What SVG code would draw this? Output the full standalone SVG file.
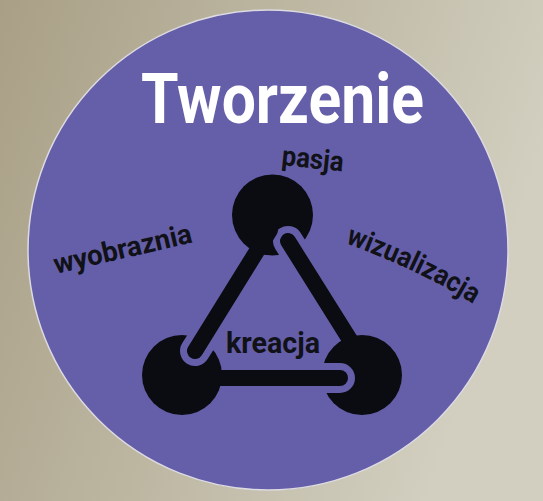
<svg xmlns="http://www.w3.org/2000/svg" width="543" height="501" viewBox="0 0 543 501">
  <defs>
    <linearGradient id="paper" x1="0" y1="0" x2="1" y2="0.3">
      <stop offset="0" stop-color="#a99f86"/>
      <stop offset="0.5" stop-color="#bdb7a2"/>
      <stop offset="1" stop-color="#d2cfc0"/>
    </linearGradient>
    <path id="arcWiz" d="M345,243 Q423,271.5 478,307"/>
  </defs>
  <style>
    .lbl { font-family: Roboto, "DejaVu Sans", "Liberation Sans", sans-serif; font-weight: 700; fill: #111118; }
    .title { font-family: Roboto, "DejaVu Sans", "Liberation Sans", sans-serif; font-weight: 700; fill: #ffffff; }
    .node { fill: #0b0b12; }
    .bar { stroke: #0b0b12; stroke-width: 16; stroke-linecap: round; fill: none; }
    .gap { stroke: #655fa9; stroke-width: 30; stroke-linecap: round; fill: none; }
  </style>

  <rect id="background" x="0" y="0" width="543" height="501" fill="url(#paper)"/>
  <circle id="disc" cx="268" cy="250" r="240" fill="#655fa9" stroke="#dcdae2" stroke-width="1.5"/>

  <g id="node-top"><circle class="node" cx="272.5" cy="215" r="40.5"/></g>
  <g id="node-left"><circle class="node" cx="182" cy="375" r="40"/></g>
  <g id="node-right"><circle class="node" cx="362" cy="375" r="40"/></g>

  <g id="connectors">
    <line class="gap" x1="195" y1="351" x2="219" y2="313"/>
    <line class="gap" x1="288" y1="241" x2="312" y2="279"/>
    <line class="gap" x1="340" y1="378" x2="295" y2="378"/>
    <line class="bar" x1="195" y1="351" x2="270" y2="230"/>
    <line class="bar" x1="288" y1="241" x2="362" y2="359"/>
    <line class="bar" x1="340" y1="378" x2="185" y2="378"/>
  </g>

  <g id="labels">
    <text class="title" x="141" y="123" font-size="70" textLength="283" lengthAdjust="spacingAndGlyphs">Tworzenie</text>
    <text class="lbl" x="0" y="0" font-size="28" textLength="62" lengthAdjust="spacingAndGlyphs" transform="translate(281,165) rotate(6)">pasja</text>
    <text class="lbl" x="226" y="353" font-size="29" textLength="94" lengthAdjust="spacingAndGlyphs">kreacja</text>
    <text class="lbl" x="0" y="0" font-size="28" textLength="141" lengthAdjust="spacingAndGlyphs" transform="translate(56,274) rotate(-13)">wyobraznia</text>
    <text class="lbl" font-size="28"><textPath href="#arcWiz" textLength="142" lengthAdjust="spacingAndGlyphs">wizualizacja</textPath></text>
  </g>
</svg>
